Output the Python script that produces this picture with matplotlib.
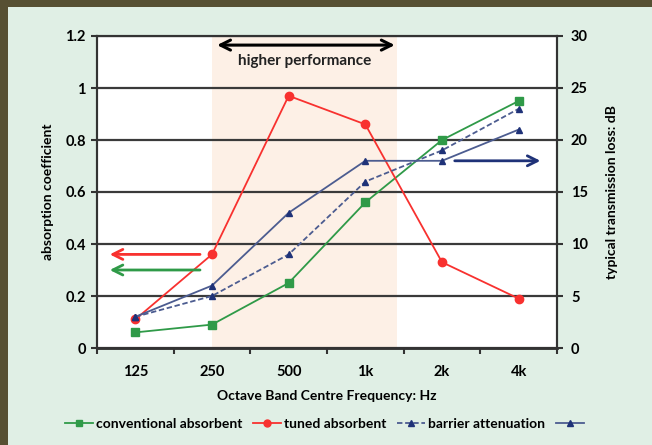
import numpy as np
import matplotlib
matplotlib.use("Agg")
from matplotlib import pyplot as plt
from matplotlib.lines import Line2D

plt.rcParams['font.family'] = ['Lato', 'DejaVu Sans']
plt.rcParams['font.weight'] = 'bold'

bands = ['125', '250', '500', '1k', '2k', '4k']
conventional = [0.06, 0.09, 0.25, 0.56, 0.80, 0.95]
tuned = [0.11, 0.36, 0.97, 0.86, 0.33, 0.19]
barrier_db = [3, 5, 9, 16, 19, 23]
other_db = [3, 6, 13, 18, 18, 21]

GREEN = '#2f9a48'
RED = '#f8312f'
NAVY = '#1f3278'
NAVY_LINE = '#4c5c90'
BG = '#e0efe5'
BORDER = '#575033'

fig = plt.figure(figsize=(6.52, 4.45), dpi=100)
fig.patch.set_facecolor(BORDER)
fig.patches.append(plt.Rectangle((8 / 652, 0), 1, 1 - 7 / 445, transform=fig.transFigure,
                                 facecolor=BG, edgecolor='none', zorder=-5))

ax = fig.add_axes([97 / 652, 1 - 348 / 445, 460 / 652, 312 / 445])
ax.set_facecolor('white')
ax2 = ax.twinx()
x = np.arange(len(bands))

ax.axvspan(1, 3.41, color='#fdf0e6', zorder=0, lw=0)
ax.set_ylim(0, 1.2)
ax.set_yticks(np.arange(0, 1.21, 0.2))
ax.set_yticklabels(['0', '0.2', '0.4', '0.6', '0.8', '1', '1.2'])
ax.grid(axis='y', color='#3a3a3a', lw=1.6, zorder=1)
ax.set_axisbelow(True)
ax.set_xlim(-0.5, 5.5)
ax.set_xticks(np.arange(-0.5, 5.6, 1))
ax.set_xticklabels([])
ax.set_xticks(x, minor=True)
ax.set_xticklabels(bands, minor=True)
ax.tick_params(axis='x', which='minor', length=0, pad=12)
ax.tick_params(axis='x', which='major', length=4, width=1.5, color='#333333')
ax.tick_params(axis='y', length=4, width=1.5, color='#333333', pad=4)
for t in ax.get_xticklabels(minor=True) + ax.get_yticklabels():
    t.set_fontsize(10.5)
    t.set_fontweight('bold')

ax2.set_ylim(0, 30)
ax2.set_yticks(np.arange(0, 31, 5))
ax2.tick_params(axis='y', length=4, width=1.5, color='#333333', labelsize=10.5, pad=6)
for t in ax2.get_yticklabels():
    t.set_fontweight('bold')

for a in (ax, ax2):
    for s in a.spines.values():
        s.set_color('#333333')
        s.set_linewidth(1.5)
    a.spines['bottom'].set_linewidth(1.8)

ax.plot(x, conventional, color=GREEN, lw=1.3, marker='s', ms=6, zorder=4)
ax.plot(x, tuned, color=RED, lw=1.3, marker='o', ms=6, zorder=4)
ax2.plot(x, barrier_db, color=NAVY_LINE, lw=1.3, ls=(0, (3, 1.5)), marker='^', ms=5,
         mfc=NAVY, mec=NAVY, zorder=4)
ax2.plot(x, other_db, color=NAVY_LINE, lw=1.3, marker='^', ms=5, mfc=NAVY, mec=NAVY, zorder=4)

# arrows pointing at the relevant axis
arrow = dict(arrowstyle='->', lw=2, mutation_scale=18)
ax.annotate('', xy=(-0.37, 0.36), xytext=(0.88, 0.36),
            arrowprops=dict(arrow, color=RED), zorder=5)
ax.annotate('', xy=(-0.37, 0.30), xytext=(0.88, 0.30),
            arrowprops=dict(arrow, color=GREEN), zorder=5)
ax2.annotate('', xy=(5.32, 18), xytext=(4.13, 18),
             arrowprops=dict(arrow, color=NAVY), zorder=5)
ax.annotate('', xy=(3.42, 1.165), xytext=(1.03, 1.165),
            arrowprops=dict(arrow, arrowstyle='<->', color='black', lw=2.2), zorder=5)
ax.text(2.21, 1.105, 'higher performance', ha='center', va='center', fontsize=11,
        fontweight='bold', color='#222222')

ax.set_xlabel('Octave Band Centre Frequency: Hz', fontsize=10, fontweight='bold', labelpad=8)
ax.set_ylabel('absorption coefficient', fontsize=10, fontweight='bold', labelpad=8)
ax2.set_ylabel('typical transmission loss: dB', fontsize=10, fontweight='bold', labelpad=13)

handles = [
    Line2D([], [], color=GREEN, lw=1.3, marker='s', ms=5),
    Line2D([], [], color=RED, lw=1.3, marker='o', ms=5),
    Line2D([], [], color=NAVY_LINE, lw=1.3, ls=(0, (3, 1.5)), marker='^', ms=4, mfc=NAVY, mec=NAVY),
    Line2D([], [], color=NAVY_LINE, lw=1.3, marker='^', ms=4, mfc=NAVY, mec=NAVY),
]
labels = ['conventional absorbent', 'tuned absorbent', 'barrier attenuation', '']
fig.legend(handles, labels, loc='center', bbox_to_anchor=(326 / 652, 1 - 424 / 445), ncol=4,
           frameon=False, fontsize=10, handlelength=2.0, handletextpad=0.2, columnspacing=0.8)

fig.savefig('out.png', dpi=100, facecolor=fig.get_facecolor())
